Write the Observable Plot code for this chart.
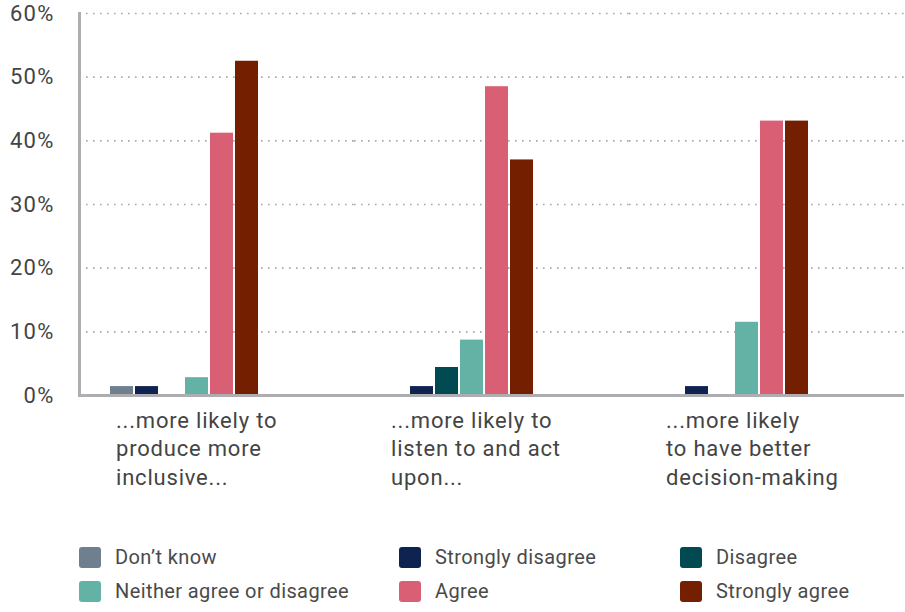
<!DOCTYPE html>
<html>
<head>
<meta charset="utf-8">
<script src="https://cdn.jsdelivr.net/npm/d3@7"></script>
<script src="https://cdn.jsdelivr.net/npm/@observablehq/plot@0.6"></script>
<style>
  html, body { margin: 0; padding: 0; background: #fff; }
  body { width: 905px; height: 612px; overflow: hidden; font-family: Roboto, "Noto Sans", sans-serif; }
  #legend { display: grid; grid-template-columns: 320px 281px auto; grid-auto-rows: 34px; padding-left: 79px; margin-top: 20px; }
  .item { display: flex; align-items: center; font-size: 20px; letter-spacing: 0.4px; color: #4a4a4a; }
  .sw { width: 22px; height: 21px; border-radius: 3px; margin-right: 14px; flex: none; }
  g[aria-label="fx-axis tick label"] text { letter-spacing: 0.8px; }
  g[aria-label="y-axis tick label"] text { letter-spacing: 1.2px; }
</style>
</head>
<body>
<div id="chart"></div>
<div id="legend"></div>
<script>
const groups = [
  "...more likely to produce more inclusive...",
  "...more likely to listen to and act upon...",
  "...more likely to have better decision-making"
];
const groupLabels = [
  "...more likely to\nproduce more\ninclusive...",
  "...more likely to\nlisten to and act\nupon...",
  "...more likely\nto have better\ndecision-making"
];
const series = ["Don’t know", "Strongly disagree", "Disagree", "Neither agree or disagree", "Agree", "Strongly agree"];
const colors = ["#6f7f8e", "#0e2350", "#024a51", "#63b2a5", "#d95f74", "#741f00"];

const dontKnow = [1.4, 0, 0];
const stronglyDisagree = [1.4, 1.4, 1.4];
const disagree = [0, 4.4, 0];
const neither = [2.8, 8.7, 11.5];
const agree = [41.2, 48.5, 43.1];
const stronglyAgree = [52.5, 37.0, 43.1];

const yTicks = [0, 10, 20, 30, 40, 50, 60];

const valuesBySeries = [dontKnow, stronglyDisagree, disagree, neither, agree, stronglyAgree];
const data = [];
series.forEach((s, i) => groups.forEach((g, j) => data.push({group: g, series: s, value: valuesBySeries[i][j]})));

const labelOf = new Map(groups.map((g, i) => [g, groupLabels[i]]));

const chart = Plot.plot({
  width: 905,
  height: 520,
  marginLeft: 78,
  marginRight: 1,
  marginTop: 13,
  marginBottom: 125,
  style: {fontFamily: "Roboto, 'Noto Sans', sans-serif", color: "#444", background: "#fff"},
  fx: {domain: groups, paddingInner: 0, paddingOuter: 0},
  x: {domain: series, paddingInner: 0.1, paddingOuter: 2.34, align: 0.24, axis: null},
  y: {domain: [0, 60], axis: null},
  color: {domain: series, range: colors},
  marks: [
    Plot.ruleY(yTicks.filter(d => d > 0), {y: d => d, stroke: "#a8a8a8", strokeWidth: 1.6, strokeDasharray: "1.6,5.4"}),
    Plot.barY(data.filter(d => d.value > 0), {fx: "group", x: "series", y: "value", fill: "series"}),
    Plot.ruleY([0], {stroke: "#aeaeb2", strokeWidth: 3}),
    Plot.frame({anchor: "left", stroke: "#aeaeb2", strokeWidth: 3, facet: "super"}),
    Plot.axisY(yTicks, {tickSize: 0, tickPadding: 25, tickFormat: d => d + "%", fontSize: 22, fill: "#444", label: null}),
    Plot.axisFx({anchor: "bottom", tickSize: 0, tickPadding: 0, tickFormat: d => labelOf.get(d), textAnchor: "start", lineAnchor: "top", lineHeight: 1.3, dx: -101, dy: 12, fontSize: 22, fill: "#444", label: null})
  ]
});
document.getElementById("chart").appendChild(chart);

const legend = document.getElementById("legend");
series.forEach((s, i) => {
  const el = document.createElement("div");
  el.className = "item";
  const sw = document.createElement("span");
  sw.className = "sw";
  sw.style.background = colors[i];
  el.appendChild(sw);
  el.appendChild(document.createTextNode(s));
  legend.appendChild(el);
});
</script>
</body>
</html>
